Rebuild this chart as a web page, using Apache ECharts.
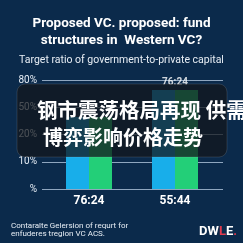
<!DOCTYPE html>
<html>
<head>
<meta charset="utf-8">
<script src="https://cdn.jsdelivr.net/npm/echarts@6/dist/echarts.min.js"></script>
<style>
html,body{margin:0;padding:0;background:#0b2a4b;}
#c{width:243px;height:243px;}
</style>
</head>
<body>
<div id="c"></div>
<script>
// ---- data ----
var categories = ['76:24', '55:44'];
var yTickLabels = ['%', '10%', '20%', '50%', '80%'];
var blueValues = [2.64, 3.63];   // position on the (non-linear) tick scale
var greenValues = [2.64, 3.63];
var topLabels = ['', '76:24'];
var titleLines = ['Proposed VC. proposed: fund', 'structures in  Western VC?'];
var subtitleText = 'Target ratio of government-to-private capital';
var overlayLines = ['钢市震荡格局再现 供需', '博弈影响价格走势'];
var footerLines = ['Contaralte Gelersion of requrt for', 'enfuderes tregion VC ACS.'];

var chart = echarts.init(document.getElementById('c'), null, {renderer: 'canvas'});
var FONT = 'Roboto, "Liberation Sans", sans-serif';
var CJK = '"Noto Sans CJK SC", sans-serif';

var option = {
  backgroundColor: '#0b2a4b',
  animation: false,
  title: [
    {text: titleLines.join('\n'), left: 'center', top: 10,
     textStyle: {color: '#ffffff', fontFamily: FONT, fontWeight: 'bold', fontSize: 13.5, lineHeight: 17}},
    {text: subtitleText, left: 'center', top: 50,
     textStyle: {color: '#e8eef5', fontFamily: FONT, fontWeight: 'normal', fontSize: 10.5}}
  ],
  grid: [
    {left: 42, right: 20, top: 80, bottom: 54},
    {left: 46, right: 25, top: 80, bottom: 54}
  ],
  xAxis: [
    {type: 'category', gridIndex: 0, data: categories, show: false},
    {type: 'category', gridIndex: 1, data: categories,
     axisLine: {show: false}, axisTick: {show: false},
     axisLabel: {color: '#ffffff', fontFamily: FONT, fontWeight: 'bold', fontSize: 12, margin: 6}}
  ],
  yAxis: [
    {type: 'value', gridIndex: 0, min: 0, max: 4, interval: 1,
     axisLine: {show: false}, axisTick: {show: false},
     axisLabel: {color: '#e6edf5', fontFamily: FONT, fontSize: 10, margin: 5,
       formatter: function (v) { return yTickLabels[Math.round(v)]; }},
     splitLine: {lineStyle: {color: '#8fa6bf', width: 1}}},
    {type: 'value', gridIndex: 1, min: 0, max: 4, interval: 1, show: false}
  ],
  series: [
    {type: 'bar', xAxisIndex: 1, yAxisIndex: 1, data: blueValues, barWidth: 23, barGap: '0%',
     itemStyle: {color: '#18aeea'}},
    {type: 'bar', xAxisIndex: 1, yAxisIndex: 1, data: greenValues, barWidth: 23,
     itemStyle: {color: '#23cf78'}},
    {type: 'scatter', xAxisIndex: 1, yAxisIndex: 1, symbolSize: 0,
     data: blueValues.map(function (v, i) { return [i, v]; }),
     label: {show: true, position: 'top', distance: 3, color: '#ffffff', fontFamily: FONT,
       fontWeight: 'bold', fontSize: 10,
       formatter: function (p) { return topLabels[p.dataIndex]; }}}
  ],
  graphic: [
    {type: 'rect', z: 100, shape: {x: 17, y: 84, width: 210, height: 73, r: 8},
     style: {fill: 'rgba(19,23,29,0.74)', stroke: 'rgba(255,255,255,0.12)', lineWidth: 1}},
    {type: 'text', z: 101, left: 37, top: 100,
     style: {text: overlayLines[0], fill: '#ffffff', font: 'bold 20.5px ' + CJK,
       shadowColor: 'rgba(0,0,0,0.9)', shadowBlur: 3, shadowOffsetX: 1, shadowOffsetY: 1}},
    {type: 'text', z: 101, left: 43, top: 127,
     style: {text: overlayLines[1], fill: '#ffffff', font: 'bold 20px ' + CJK,
       shadowColor: 'rgba(0,0,0,0.9)', shadowBlur: 3, shadowOffsetX: 1, shadowOffsetY: 1}},
    {type: 'text', z: 50, left: 11, top: 222,
     style: {text: footerLines.join('\n'), fill: '#e8eef5', font: '8px ' + FONT, lineHeight: 7.5}},
    {type: 'text', z: 50, right: 6, top: 225,
     style: {text: '{w|DW}{r|L}{w|E}{r|.}', font: 'bold 13px ' + FONT,
       rich: {w: {fill: '#ffffff', font: 'bold 13px ' + FONT},
              r: {fill: '#e23a4e', font: 'bold 13px ' + FONT}}}}
  ]
};
chart.setOption(option);
</script>
</body>
</html>
